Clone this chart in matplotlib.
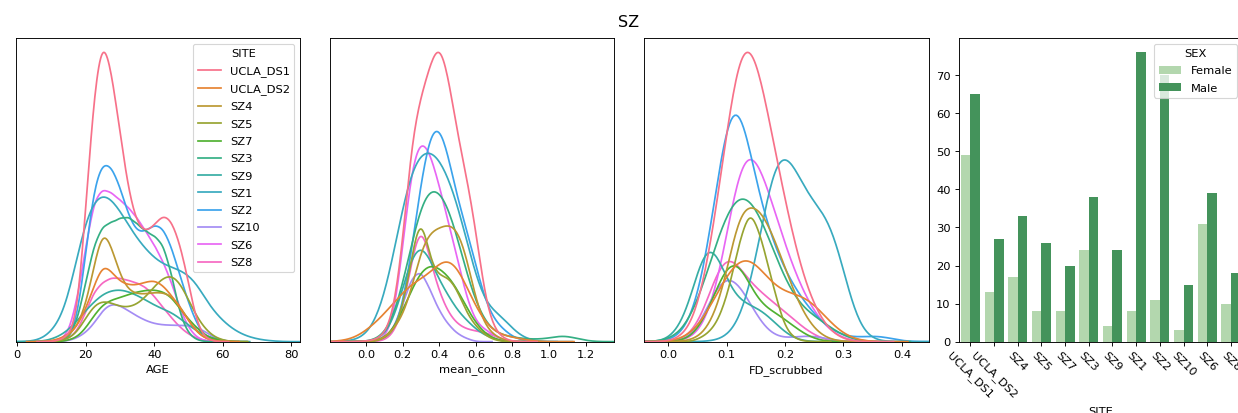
import numpy as np
import pandas as pd
import matplotlib
matplotlib.use("Agg")
import matplotlib.pyplot as plt
import seaborn as sns

# sites in the order they appear in the data
sites = ["UCLA_DS1", "UCLA_DS2", "SZ4", "SZ5", "SZ7", "SZ3",
         "SZ9", "SZ1", "SZ2", "SZ10", "SZ6", "SZ8"]
n_female = [49, 13, 17, 8, 8, 24, 4, 8, 11, 3, 31, 10]
n_male = [65, 27, 33, 26, 20, 38, 24, 76, 70, 15, 39, 18]

# ---- AGE: relative frequency per site, 2.5-year grid ----
age_grid = [5, 7.5, 10, 12.5, 15, 17.5, 20, 22.5, 25, 27.5, 30, 32.5, 35, 37.5,
            40, 42.5, 45, 47.5, 50, 52.5, 55, 57.5, 60, 62.5, 65, 67.5, 70, 72.5, 75]
age_ucla_ds1 = [0, 0, 0, 0.005, 0.02, 0.07, 0.45, 0.86, 1.04, 0.91, 0.7, 0.5, 0.39, 0.365,
                0.39, 0.43, 0.41, 0.33, 0.2, 0.05, 0.01, 0, 0, 0, 0, 0, 0, 0, 0]
age_ucla_ds2 = [0, 0, 0.003, 0.01, 0.025, 0.05, 0.11, 0.19, 0.265, 0.235, 0.2, 0.19, 0.19, 0.2,
                0.207, 0.19, 0.155, 0.115, 0.07, 0.03, 0.01, 0.003, 0, 0, 0, 0, 0, 0, 0]
age_sz4 = [0, 0, 0, 0.005, 0.02, 0.05, 0.12, 0.26, 0.39, 0.32, 0.22, 0.17, 0.16, 0.16,
           0.165, 0.165, 0.155, 0.12, 0.07, 0.03, 0.01, 0.003, 0, 0, 0, 0, 0, 0, 0]
age_sz5 = [0, 0, 0, 0.003, 0.01, 0.03, 0.08, 0.125, 0.138, 0.13, 0.117, 0.115, 0.125, 0.15,
           0.185, 0.215, 0.226, 0.2, 0.14, 0.08, 0.04, 0.015, 0.005, 0, 0, 0, 0, 0, 0]
age_sz7 = [0, 0, 0, 0, 0.005, 0.015, 0.045, 0.09, 0.125, 0.14, 0.148, 0.158, 0.167, 0.172,
           0.174, 0.168, 0.15, 0.11, 0.075, 0.045, 0.02, 0.008, 0.002, 0, 0, 0, 0, 0, 0]
age_sz3 = [0, 0, 0, 0.005, 0.01, 0.07, 0.2, 0.33, 0.39, 0.4, 0.415, 0.42, 0.395, 0.37,
           0.355, 0.33, 0.23, 0.09, 0.025, 0.005, 0, 0, 0, 0, 0, 0, 0, 0, 0]
age_sz9 = [0, 0.002, 0.008, 0.02, 0.04, 0.07, 0.105, 0.135, 0.16, 0.172, 0.175, 0.168, 0.155, 0.14,
           0.122, 0.11, 0.098, 0.078, 0.055, 0.035, 0.02, 0.01, 0.004, 0, 0, 0, 0, 0, 0]
age_sz1 = [0.003, 0.01, 0.035, 0.07, 0.15, 0.29, 0.41, 0.48, 0.5, 0.48, 0.44, 0.39, 0.345, 0.31,
           0.28, 0.26, 0.25, 0.24, 0.225, 0.195, 0.14, 0.1, 0.07, 0.045, 0.028, 0.016, 0.009, 0.004, 0.002]
age_sz2 = [0, 0, 0, 0.005, 0.015, 0.07, 0.3, 0.53, 0.605, 0.59, 0.52, 0.42, 0.365, 0.37,
           0.395, 0.385, 0.32, 0.22, 0.13, 0.055, 0.015, 0.003, 0, 0, 0, 0, 0, 0, 0]
age_sz10 = [0, 0, 0, 0, 0.003, 0.012, 0.03, 0.06, 0.11, 0.13, 0.122, 0.103, 0.085, 0.07,
            0.06, 0.056, 0.055, 0.055, 0.054, 0.048, 0.033, 0.013, 0.003, 0, 0, 0, 0, 0, 0]
age_sz6 = [0, 0, 0, 0.005, 0.03, 0.14, 0.32, 0.48, 0.515, 0.5, 0.475, 0.45, 0.415, 0.37,
           0.325, 0.27, 0.2, 0.11, 0.045, 0.012, 0.003, 0, 0, 0, 0, 0, 0, 0, 0]
age_sz8 = [0, 0, 0, 0.003, 0.01, 0.035, 0.1, 0.17, 0.2, 0.215, 0.213, 0.205, 0.197, 0.183,
           0.152, 0.115, 0.08, 0.048, 0.025, 0.01, 0.003, 0, 0, 0, 0, 0, 0, 0, 0]

# ---- mean_conn ----
mc_grid = [-0.15, -0.1, -0.05, 0.0, 0.05, 0.1, 0.15, 0.2, 0.25, 0.3, 0.35, 0.4, 0.45, 0.5,
           0.55, 0.6, 0.65, 0.7, 0.75, 0.8, 0.85, 0.9, 0.95, 1.0, 1.05, 1.1, 1.15, 1.2]
mc_ucla_ds1 = [0, 0, 0, 0.002, 0.005, 0.02, 0.08, 0.3, 0.68, 0.8, 0.9, 1.0, 0.87, 0.67,
               0.54, 0.37, 0.13, 0.035, 0.01, 0, 0, 0, 0, 0, 0, 0, 0, 0]
mc_ucla_ds2 = [0.002, 0.005, 0.015, 0.035, 0.06, 0.09, 0.125, 0.16, 0.19, 0.205, 0.22, 0.26, 0.28, 0.25,
               0.18, 0.11, 0.06, 0.03, 0.02, 0.015, 0.008, 0.003, 0, 0, 0, 0, 0, 0]
mc_sz4 = [0, 0, 0, 0, 0.003, 0.01, 0.04, 0.08, 0.17, 0.3, 0.36, 0.37, 0.385, 0.37,
          0.28, 0.13, 0.05, 0.02, 0.005, 0, 0, 0, 0, 0, 0, 0, 0, 0]
mc_sz5 = [0, 0, 0, 0, 0, 0.01, 0.03, 0.1, 0.27, 0.46, 0.25, 0.21, 0.215, 0.17,
          0.09, 0.05, 0.02, 0.005, 0, 0, 0, 0, 0, 0, 0, 0, 0, 0]
mc_sz7 = [0, 0, 0, 0, 0.003, 0.01, 0.04, 0.1, 0.17, 0.23, 0.254, 0.24, 0.215, 0.17,
          0.11, 0.06, 0.025, 0.01, 0, 0, 0, 0, 0, 0, 0, 0, 0, 0]
mc_sz3 = [0, 0, 0, 0, 0.005, 0.02, 0.065, 0.18, 0.32, 0.46, 0.515, 0.5, 0.45, 0.34,
          0.22, 0.12, 0.06, 0.03, 0.02, 0.015, 0.01, 0.008, 0.008, 0.01, 0.02, 0.02, 0.01, 0.003]
mc_sz9 = [0, 0, 0, 0, 0.005, 0.02, 0.07, 0.17, 0.28, 0.323, 0.27, 0.2, 0.15, 0.1,
          0.07, 0.04, 0.02, 0.01, 0, 0, 0, 0, 0, 0, 0, 0, 0, 0]
mc_sz1 = [0, 0.002, 0.006, 0.02, 0.06, 0.14, 0.28, 0.44, 0.57, 0.62, 0.63, 0.6, 0.54, 0.45,
          0.33, 0.21, 0.12, 0.1, 0.08, 0.04, 0.015, 0.005, 0, 0, 0, 0, 0, 0]
mc_sz2 = [0, 0, 0, 0, 0.003, 0.01, 0.03, 0.1, 0.3, 0.52, 0.69, 0.72, 0.61, 0.46,
          0.37, 0.25, 0.13, 0.07, 0.04, 0.015, 0.005, 0, 0, 0, 0, 0, 0, 0]
mc_sz10 = [0, 0, 0, 0, 0.003, 0.01, 0.04, 0.12, 0.21, 0.235, 0.17, 0.1, 0.055, 0.025,
           0.01, 0, 0, 0, 0, 0, 0, 0, 0, 0, 0, 0, 0, 0]
mc_sz6 = [0, 0, 0, 0, 0, 0.01, 0.06, 0.3, 0.58, 0.67, 0.62, 0.51, 0.39, 0.27,
          0.14, 0.06, 0.04, 0.02, 0.005, 0, 0, 0, 0, 0, 0, 0, 0, 0]
mc_sz8 = [0, 0, 0, 0, 0, 0.003, 0.02, 0.09, 0.26, 0.43, 0.26, 0.16, 0.09, 0.055,
          0.04, 0.035, 0.03, 0.02, 0.005, 0, 0, 0, 0, 0, 0, 0, 0, 0]

# ---- FD_scrubbed ----
fd_grid = [0.0, 0.02, 0.04, 0.06, 0.08, 0.1, 0.12, 0.14, 0.16, 0.18, 0.2,
           0.22, 0.24, 0.26, 0.28, 0.3, 0.32, 0.34, 0.36, 0.38, 0.4]
fd_ucla_ds1 = [0, 0.01, 0.04, 0.16, 0.38, 0.65, 0.93, 0.97, 0.82, 0.62, 0.44,
               0.27, 0.15, 0.07, 0.025, 0.006, 0, 0, 0, 0, 0]
fd_ucla_ds2 = [0, 0.005, 0.02, 0.06, 0.14, 0.21, 0.27, 0.28, 0.22, 0.17, 0.15,
               0.15, 0.14, 0.1, 0.05, 0.02, 0.005, 0, 0, 0, 0]
fd_sz4 = [0, 0, 0.005, 0.02, 0.08, 0.2, 0.42, 0.43, 0.415, 0.33, 0.23,
          0.13, 0.06, 0.02, 0.005, 0, 0, 0, 0, 0, 0]
fd_sz5 = [0, 0, 0, 0.015, 0.045, 0.13, 0.3, 0.43, 0.32, 0.17, 0.035,
          0.005, 0, 0, 0, 0, 0, 0, 0, 0, 0]
fd_sz7 = [0, 0.003, 0.01, 0.06, 0.15, 0.25, 0.265, 0.17, 0.11, 0.095, 0.07,
          0.04, 0.015, 0.003, 0, 0, 0, 0, 0, 0, 0]
fd_sz3 = [0.005, 0.02, 0.07, 0.17, 0.3, 0.41, 0.48, 0.46, 0.39, 0.28, 0.19,
          0.12, 0.09, 0.07, 0.04, 0.015, 0.005, 0, 0, 0, 0]
fd_sz9 = [0.005, 0.04, 0.13, 0.315, 0.315, 0.18, 0.125, 0.115, 0.1, 0.065, 0.025,
          0.005, 0, 0, 0, 0, 0, 0, 0, 0, 0]
fd_sz1 = [0, 0, 0, 0, 0.003, 0.012, 0.05, 0.16, 0.35, 0.58, 0.61,
          0.53, 0.45, 0.415, 0.375, 0.225, 0.065, 0.012, 0.002, 0, 0]
fd_sz2 = [0.002, 0.01, 0.05, 0.18, 0.42, 0.77, 0.87, 0.56, 0.41, 0.3, 0.215,
          0.155, 0.105, 0.062, 0.033, 0.015, 0.012, 0.015, 0.023, 0.01, 0]
fd_sz10 = [0, 0, 0.01, 0.07, 0.17, 0.22, 0.19, 0.12, 0.05, 0.015, 0.01,
           0.015, 0.02, 0.015, 0.005, 0, 0, 0, 0, 0, 0]
fd_sz6 = [0, 0.002, 0.01, 0.04, 0.14, 0.32, 0.56, 0.62, 0.54, 0.42, 0.3,
          0.2, 0.12, 0.065, 0.028, 0.01, 0, 0, 0, 0, 0]
fd_sz8 = [0, 0.003, 0.02, 0.08, 0.21, 0.295, 0.24, 0.18, 0.155, 0.12, 0.095,
          0.06, 0.03, 0.01, 0, 0, 0, 0, 0, 0, 0]

age_curves = [age_ucla_ds1, age_ucla_ds2, age_sz4, age_sz5, age_sz7, age_sz3,
              age_sz9, age_sz1, age_sz2, age_sz10, age_sz6, age_sz8]
mc_curves = [mc_ucla_ds1, mc_ucla_ds2, mc_sz4, mc_sz5, mc_sz7, mc_sz3,
             mc_sz9, mc_sz1, mc_sz2, mc_sz10, mc_sz6, mc_sz8]
fd_curves = [fd_ucla_ds1, fd_ucla_ds2, fd_sz4, fd_sz5, fd_sz7, fd_sz3,
             fd_sz9, fd_sz1, fd_sz2, fd_sz10, fd_sz6, fd_sz8]


def weighted_frame(var, grid, curves):
    # long table: one row per (site, grid value) with its relative frequency as weight
    rows = []
    for site, t in zip(sites, curves):
        for x, w in zip(grid, t):
            if w > 0:
                rows.append((site, x, w))
    return pd.DataFrame(rows, columns=["SITE", var, "w"])


fig, axes = plt.subplots(1, 4, figsize=(1238.4 / 82.5, 413.4 / 82.5), dpi=82.5)
fig.subplots_adjust(left=16 / 1238, right=1242.3 / 1238,
                    bottom=1 - 341.7 / 413, top=1 - 38.3 / 413, wspace=30 / 284)

panels = [
    ("AGE", age_grid, age_curves, 0.3, (-0.4, 82.6)),
    ("mean_conn", mc_grid, mc_curves, 0.45, (-0.195, 1.356)),
    ("FD_scrubbed", fd_grid, fd_curves, 0.55, (-0.041, 0.4456)),
]
for ax, (var, grid, curves, bw, xlim) in zip(axes, panels):
    df = weighted_frame(var, grid, curves)
    sns.kdeplot(data=df, x=var, hue="SITE", hue_order=sites, weights="w",
                bw_adjust=bw, ax=ax, legend=(var == "AGE"))
    ax.set_xlim(*xlim)
    ax.set_yticks([])
    ax.set_ylabel("")
sns.move_legend(axes[0], "upper right", labelspacing=0.635)

# ---- counts by site and sex ----
counts = pd.DataFrame({
    "SITE": sites * 2,
    "SEX": ["Female"] * len(sites) + ["Male"] * len(sites),
    "count": n_female + n_male,
})
ax = axes[3]
sns.barplot(data=counts, x="SITE", y="count", hue="SEX", order=sites,
            hue_order=["Female", "Male"], palette="Greens", errorbar=None, ax=ax)
ax.tick_params(axis="x", rotation=-45)
ax.set_ylabel("")
ax.set_xlabel("SITE", labelpad=6)
sns.move_legend(ax, "upper right", labelspacing=0.65)

fig.suptitle("SZ", fontsize=14, x=0.5075, y=0.9455, va="center")
fig.savefig("out.png", dpi=82.5)
